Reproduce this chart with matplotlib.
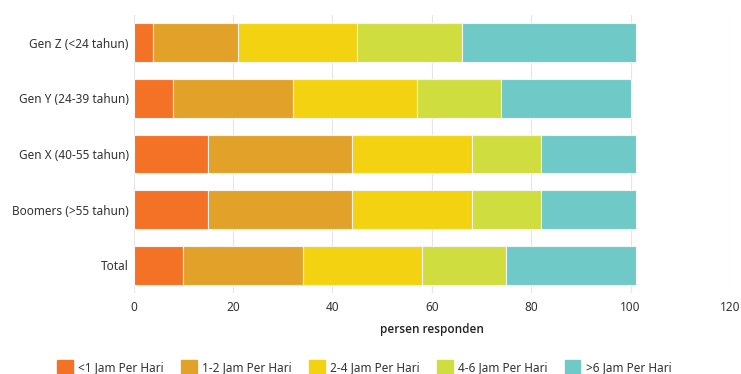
import matplotlib
matplotlib.use("Agg")
import matplotlib.pyplot as plt
from matplotlib.patches import Patch
import numpy as np

categories = ["Total", "Boomers (>55 tahun)", "Gen X (40-55 tahun)", "Gen Y (24-39 tahun)", "Gen Z (<24 tahun)"]
series_names = ["<1 Jam Per Hari", "1-2 Jam Per Hari", "2-4 Jam Per Hari", "4-6 Jam Per Hari", ">6 Jam Per Hari"]
lt1 = [10, 15, 15, 8, 4]
h1_2 = [24, 29, 29, 24, 17]
h2_4 = [24, 24, 24, 25, 24]
h4_6 = [17, 14, 14, 17, 21]
gt6 = [26, 19, 19, 26, 35]
series_values = [lt1, h1_2, h2_4, h4_6, gt6]
colors = ["#F37225", "#E2A229", "#F3D212", "#CFDD3E", "#6FC9C6"]
xticks = [0, 20, 40, 60, 80, 100, 120]

plt.rcParams['font.family'] = ['Noto Sans', 'DejaVu Sans']

fig = plt.figure(figsize=(7.41, 3.74), dpi=100)
ax = fig.add_axes([0.1802, 0.2166, 0.8050, 0.7433])

y = np.arange(len(categories))
left = np.zeros(len(categories))
for name, vals, c in zip(series_names, series_values, colors):
    ax.barh(y, vals, left=left, height=0.7, color=c, edgecolor="#f4f4f4", linewidth=0.8, label=name, zorder=2)
    left += np.array(vals)

ax.set_xlim(0, 120)
ax.set_ylim(-0.5, 4.5)
ax.set_xticks(xticks)
ax.set_yticks(y)
ax.set_yticklabels(categories, fontsize=8.5, color="#333333")
ax.tick_params(axis='x', labelsize=8.5, colors="#333333", length=0, pad=6)
ax.tick_params(axis='y', length=0, pad=3.5)
ax.grid(axis='x', color="#e6e6e6", linewidth=0.8, zorder=0)
for s in ax.spines.values():
    s.set_visible(False)
ax.set_xlabel("persen responden", fontsize=8.5, fontweight=600, family=['Open Sans', 'DejaVu Sans'],
              color="#222222", labelpad=6)

handles = [Patch(facecolor=c, edgecolor=c, label=n) for n, c in zip(series_names, colors)]
leg = fig.legend(handles=handles, loc='center', bbox_to_anchor=(0.492, 0.0187), ncol=5, frameon=False,
                 prop={'size': 8.5},
                 handlelength=1.3, handleheight=1.3, handletextpad=0.5, columnspacing=1.45, borderpad=0,
                 borderaxespad=0)
for t in leg.get_texts():
    t.set_color("#333333")

fig.savefig("out.png", dpi=100)
